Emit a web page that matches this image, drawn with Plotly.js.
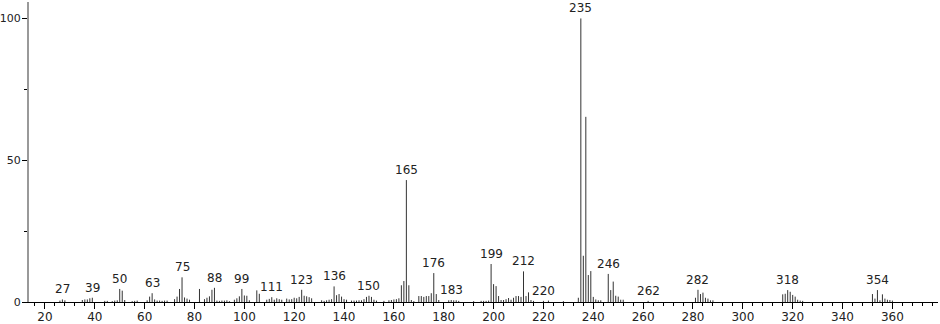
<!DOCTYPE html>
<html>
<head>
<meta charset="utf-8">
<script src="https://cdn.plot.ly/plotly-3.0.1.min.js"></script>
<style>html,body{margin:0;padding:0;background:#fff;}#chart{width:940px;height:324px;}</style>
</head>
<body>
<div id="chart"></div>
<script>
// m/z values of the peaks
const mz = [26,27,28,35,36,37,38,39,44,45,47,48,49,50,51,52,55,56,57,
  61,62,63,64,65,66,67,68,69,72,73,74,75,76,77,78,82,84,85,86,87,88,
  89,90,91,92,93,94,96,97,98,99,100,101,102,105,106,
  109,110,111,112,113,114,115,117,118,119,120,121,122,123,124,125,126,127,
  131,132,133,134,135,136,137,138,139,140,141,143,144,145,146,147,148,149,150,151,152,153,
  156,158,159,160,161,162,163,164,165,166,167,168,
  170,171,172,173,174,175,176,177,178,182,183,184,185,186,
  192,195,196,197,198,199,200,201,202,203,204,205,206,207,208,209,210,211,212,213,214,215,216,
  220,222,228,234,235,236,237,238,239,240,241,242,243,246,247,248,249,250,251,252,262,
  281,282,283,284,285,286,287,288,
  316,317,318,319,320,321,322,323,324,
  352,353,354,355,356,357,358,359,360];
// relative intensities (%)
const intensity = [0.5,0.9,0.6,0.7,0.9,0.9,1.3,1.5,0.4,0.4,0.3,0.5,0.6,4.6,4.0,0.7,0.3,0.4,0.5,
  0.6,1.9,3.1,0.9,0.5,0.5,0.4,0.5,0.5,1.0,1.9,4.6,8.7,1.6,1.2,0.8,4.6,1.0,1.5,2.0,4.3,5.0,
  0.5,0.4,0.5,0.5,0.6,0.3,0.8,1.3,2.0,4.6,2.3,2.2,0.6,4.1,2.9,
  0.8,1.1,1.7,0.8,1.3,1.0,0.8,1.2,0.9,1.0,1.5,1.3,1.8,4.3,2.2,2.0,1.7,1.3,0.6,
  0.4,0.6,0.8,1.0,5.5,2.4,2.8,1.9,1.0,0.8,0.5,0.5,0.5,0.6,0.6,1.0,1.8,2.2,1.8,0.8,0.5,
  0.4,0.6,0.7,0.9,1.0,1.3,5.9,7.4,43.0,5.9,0.7,0.3,
  2.1,2.1,1.8,2.1,2.1,3.1,10.2,2.8,0.7,0.6,0.7,0.6,0.6,0.4,
  0.3,0.4,0.4,0.4,0.5,13.4,6.3,5.6,2.1,0.7,0.7,1.0,1.4,0.8,1.5,2.1,2.1,1.8,10.8,2.1,3.4,0.7,0.4,
  0.4,0.5,0.3,1.5,100,16.3,65.3,9.5,10.9,1.8,0.9,0.6,0.6,9.9,4.2,7.2,2.2,1.9,0.8,0.8,0.4,
  1.5,4.3,2.8,3.3,1.5,1.2,0.6,0.6,
  2.7,2.9,4.2,3.6,2.5,1.9,0.8,0.5,0.4,
  2.8,1.2,4.2,0.6,2.7,1.2,0.8,0.7,0.5];
// labelled peaks
const labelMz = [27,39,50,63,75,88,99,111,123,136,150,165,176,183,199,212,220,235,246,262,282,318,354];
const labelText = ["27","39","50","63","75","88","99","111","123","136","150","165","176","183","199","212","220","235","246","262","282","318","354"];

const lookup = {};
mz.forEach((m, i) => { lookup[m] = intensity[i]; });

const lx = [], ly = [];
mz.forEach((m, i) => { lx.push(m, m, null); ly.push(0, intensity[i], null); });

const peaks = {
  x: lx, y: ly, type: 'scatter', mode: 'lines',
  line: {color: '#333333', width: 1},
  hoverinfo: 'skip', showlegend: false
};

const annotations = labelMz.map((m, i) => ({
  x: m, y: lookup[m], xref: 'x', yref: 'y',
  text: labelText[i], showarrow: false,
  xanchor: 'center', yanchor: 'bottom', yshift: 1,
  font: {family: 'DejaVu Sans', size: 12, color: '#222'}
}));

const layout = {
  width: 940, height: 324,
  margin: {l: 29, r: 2, t: 2, b: 22},
  paper_bgcolor: '#fff', plot_bgcolor: '#fff',
  font: {family: 'DejaVu Sans', size: 12, color: '#222'},
  showlegend: false,
  annotations: annotations,
  xaxis: {
    range: [13.6, 378.3], tick0: 20, dtick: 20,
    ticks: 'outside', ticklen: 6, tickcolor: '#000', tickwidth: 1,
    showline: true, linecolor: '#000', linewidth: 1,
    showgrid: false, zeroline: false,
    ticklabelstandoff: -2,
    tickfont: {size: 12, color: '#222'},
    minor: {dtick: 4, tick0: 20, ticks: 'outside', ticklen: 3, tickcolor: '#000', showgrid: false}
  },
  yaxis: {
    range: [0, 105.8], tick0: 0, dtick: 50,
    ticks: 'outside', ticklen: 5, tickcolor: '#000', tickwidth: 1,
    showline: true, linecolor: '#999', linewidth: 2,
    showgrid: false, zeroline: false,
    ticklabelstandoff: -1,
    tickfont: {size: 11, color: '#222'},
    minor: {dtick: 25, ticks: 'outside', ticklen: 3, tickcolor: '#000', showgrid: false}
  }
};

Plotly.newPlot('chart', [peaks], layout, {staticPlot: true, displayModeBar: false});
</script>
</body>
</html>
